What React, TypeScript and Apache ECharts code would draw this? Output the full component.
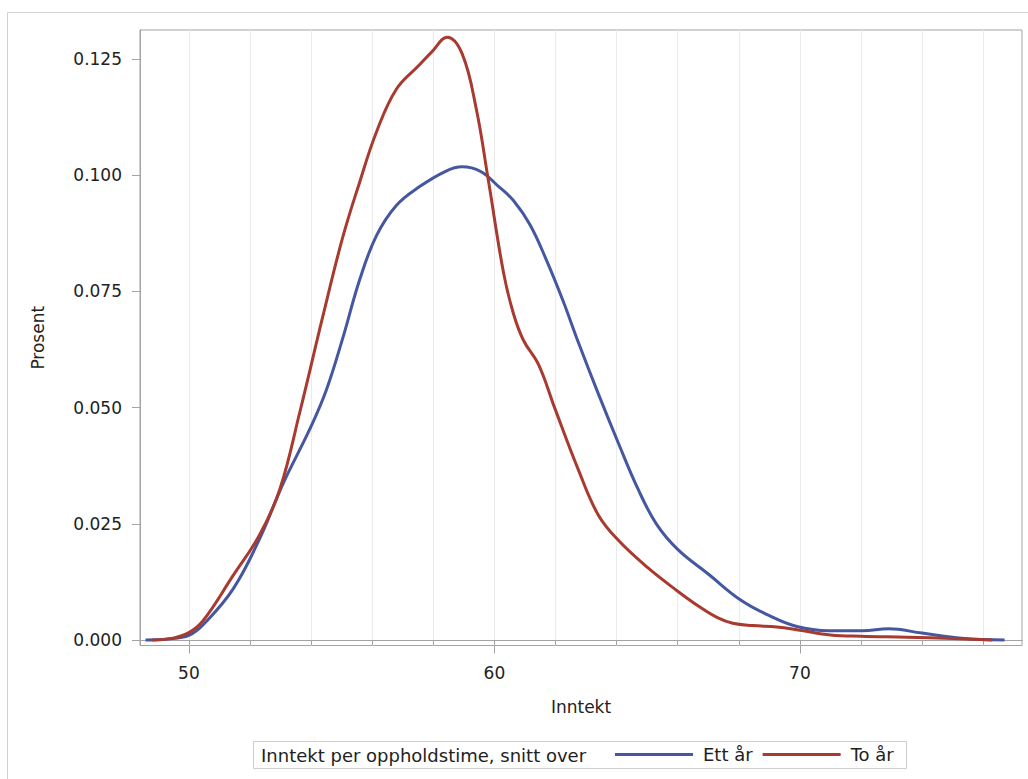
import React, { useEffect, useRef } from "react";
import * as echarts from "echarts";

// ---- data ----
const xTickValues = [50, 52, 54, 56, 58, 60, 62, 64, 66, 68, 70, 72, 74, 76];
const xLabelValues = [50, 60, 70];
const yTickValues = [0, 0.025, 0.05, 0.075, 0.1, 0.125];

const seriesNames = ["Ett år", "To år"];
const legendTitle = "Inntekt per oppholdstime, snitt over";
const xAxisName = "Inntekt";
const yAxisName = "Prosent";

const ettX = [48.58, 49.3, 50.0, 50.5, 51.45, 52.33, 53.08, 53.96, 54.5, 55.03, 55.59, 56.14, 56.79, 57.54, 58.42, 58.94, 59.55, 60.15, 60.63, 61.17, 61.7, 62.24, 62.75, 63.4, 64.05, 64.7, 65.3, 66.0, 67.0, 68.06, 68.95, 69.9, 70.95, 72.05, 72.9, 74.0, 75.3, 76.7];
const ettY = [0, 0.0002, 0.001, 0.0035, 0.011, 0.022, 0.0336, 0.0454, 0.0538, 0.0648, 0.0775, 0.087, 0.0935, 0.0975, 0.1009, 0.1018, 0.1008, 0.0975, 0.0945, 0.0893, 0.0818, 0.0731, 0.064, 0.053, 0.0425, 0.0325, 0.025, 0.0195, 0.0142, 0.0086, 0.0054, 0.0029, 0.002, 0.002, 0.0024, 0.0015, 0.0004, 0];

const toX = [48.8, 49.4, 50.0, 50.47, 51.45, 52.33, 52.98, 53.63, 54.38, 55.03, 55.59, 56.14, 56.79, 57.54, 57.96, 58.45, 58.94, 59.4, 59.8, 60.3, 60.62, 60.95, 61.45, 61.97, 62.75, 63.4, 64.05, 65.03, 66.0, 66.7, 67.3, 67.8, 68.46, 69.25, 70.0, 71.0, 72.0, 73.5, 75.0, 76.3];
const toY = [0, 0.0003, 0.0016, 0.0042, 0.0139, 0.0228, 0.0325, 0.049, 0.0695, 0.0865, 0.0985, 0.1093, 0.1185, 0.1237, 0.1266, 0.1297, 0.1262, 0.1145, 0.099, 0.079, 0.0703, 0.0645, 0.0592, 0.05, 0.0366, 0.0269, 0.0215, 0.0155, 0.0105, 0.0072, 0.0048, 0.0036, 0.0031, 0.0028, 0.0021, 0.0011, 0.0008, 0.0006, 0.0003, 0];

const colors = ["#4457a0", "#a83a30"];
const FONT = "DejaVu Sans";

export default function App() {
  const ref = useRef<HTMLDivElement>(null);

  useEffect(() => {
    if (!ref.current) return;
    const chart = echarts.init(ref.current, undefined, { renderer: "svg" });
    const pair = (xs: number[], ys: number[]) => xs.map((x, i) => [x, ys[i]]);
    const axisColor = "#a3a3a3";
    chart.setOption({
      animation: false,
      backgroundColor: "#ffffff",
      grid: {
        left: 140,
        top: 30,
        right: 6,
        bottom: 133.5,
        show: true,
        borderColor: axisColor,
        borderWidth: 1,
        containLabel: false,
      },
      xAxis: [
        {
          type: "value",
          min: 48.4,
          max: 77.27,
          name: xAxisName,
          nameLocation: "middle",
          nameGap: 53,
          nameTextStyle: { fontFamily: FONT, fontSize: 17, color: "#222" },
          axisLine: { show: true, lineStyle: { color: axisColor } },
          axisTick: { show: true, customValues: xTickValues, length: 5, lineStyle: { color: axisColor } },
          axisLabel: {
            customValues: xLabelValues,
            margin: 19,
            fontFamily: FONT,
            fontSize: 17,
            color: "#222",
          },
          splitLine: { show: true, lineStyle: { color: "#ebebeb", width: 1 } },
        },
        {
          type: "value",
          min: 48.4,
          max: 77.27,
          position: "bottom",
          axisLine: { show: false },
          axisTick: { show: true, customValues: xLabelValues, length: 8, lineStyle: { color: axisColor } },
          axisLabel: { show: false },
          splitLine: { show: false },
        },
      ],
      yAxis: {
        type: "value",
        min: -0.00118,
        max: 0.13124,
        name: yAxisName,
        nameLocation: "middle",
        nameGap: 94,
        nameTextStyle: { fontFamily: FONT, fontSize: 17, color: "#222" },
        axisLine: { show: true, lineStyle: { color: axisColor } },
        axisTick: { show: true, customValues: yTickValues, length: 8, lineStyle: { color: axisColor } },
        axisLabel: {
          customValues: yTickValues,
          margin: 18,
          fontFamily: FONT,
          fontSize: 17,
          color: "#222",
          formatter: (v: number) => v.toFixed(3),
        },
        splitLine: { show: false },
      },
      legend: {
        data: seriesNames,
        left: 615,
        top: 745.5,
        padding: 0,
        icon: "rect",
        itemWidth: 78,
        itemHeight: 3,
        itemGap: 10,
        textStyle: { fontFamily: FONT, fontSize: 18, color: "#222", lineHeight: 18, padding: [0, 0, 0, 5] },
      },
      graphic: [
        {
          type: "rect",
          silent: true,
          shape: { x: 7.5, y: 12.5, width: 1040, height: 800 },
          style: { fill: "none", stroke: "#d2d2d2", lineWidth: 1 },
          z: -10,
        },
        {
          type: "rect",
          silent: true,
          shape: { x: 253.5, y: 741.5, width: 653, height: 27 },
          style: { fill: "none", stroke: "#cfcfcf", lineWidth: 1 },
        },
        {
          type: "text",
          silent: true,
          x: 261,
          y: 755,
          style: {
            text: legendTitle,
            fontFamily: FONT,
            fontSize: 18,
            fill: "#222",
            verticalAlign: "middle",
          },
        },
      ],
      series: [
        {
          name: seriesNames[0],
          type: "line",
          xAxisIndex: 0,
          data: pair(ettX, ettY),
          smooth: 0.4,
          showSymbol: false,
          symbol: "none",
          color: colors[0],
          lineStyle: { width: 3, color: colors[0] },
        },
        {
          name: seriesNames[1],
          type: "line",
          xAxisIndex: 0,
          data: pair(toX, toY),
          smooth: 0.4,
          showSymbol: false,
          symbol: "none",
          color: colors[1],
          lineStyle: { width: 3, color: colors[1] },
        },
      ],
    });
    return () => chart.dispose();
  }, []);

  return (
    <div
      ref={ref}
      style={{ position: "absolute", left: 0, top: 0, width: 1028, height: 779 }}
    />
  );
}
